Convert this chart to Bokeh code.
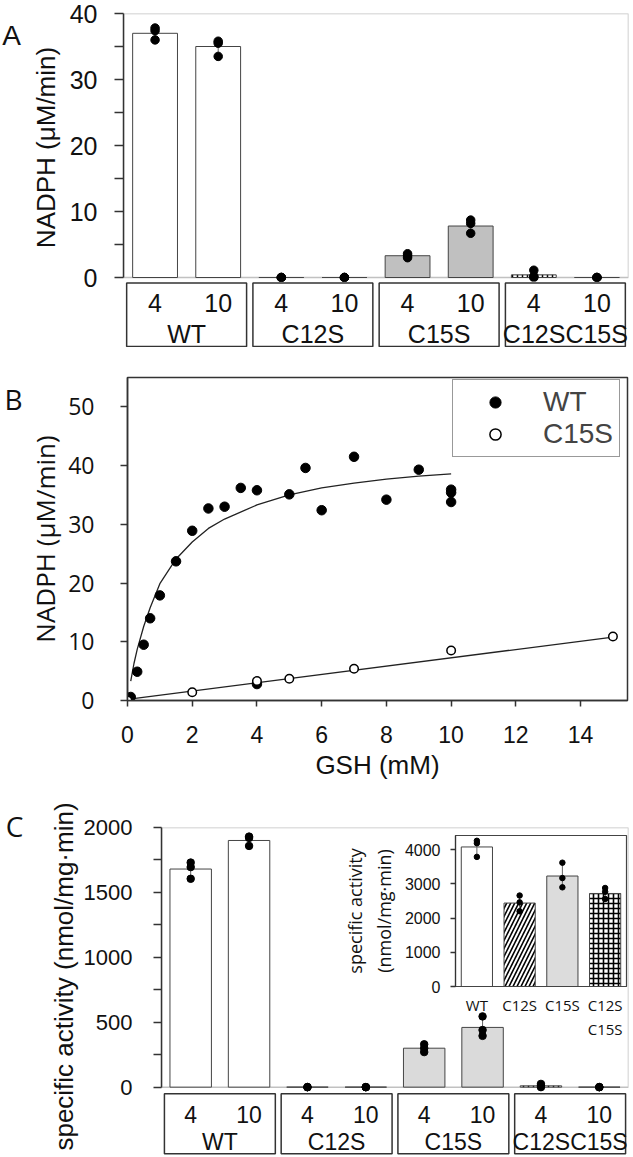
import numpy as np
from bokeh.plotting import figure
from bokeh.layouts import column, row
from bokeh.models import (FactorRange, Range1d, FixedTicker, BoxAnnotation, Label,
                          Legend, LegendItem, GridBox)
from bokeh.core.properties import value
from bokeh.embed import file_html
from bokeh.resources import INLINE

# ---------------- data ----------------
groups = ["WT", "C12S", "C15S", "C12SC15S"]
concs = ["4", "10"]

# Panel A: NADPH consumption (uM/min); bar = mean, rep1..3 = replicate dots
a_bar = [37.0, 35.0, 0.0, 0.0, 3.3, 7.8, 0.4, 0.0]
a_rep1 = [37.8, 35.8, 0.0, 0.0, 3.6, 8.7, 1.1, 0.0]
a_rep2 = [37.4, 35.5, 0.0, 0.0, 3.3, 8.2, 0.2, 0.0]
a_rep3 = [36.0, 33.5, 0.0, 0.0, 3.0, 6.7, 0.0, 0.0]
a_yticks = [0, 10, 20, 30, 40]
a_yminor = [5, 15, 25, 35]

# Panel B: NADPH vs GSH (mM)
b_wt_x = [0.1, 0.3, 0.5, 0.7, 1.0, 1.5, 2.0, 2.5, 3.0, 3.5, 4.0, 4.0, 5.0, 5.5, 6.0,
          7.0, 8.0, 9.0, 10.0, 10.0, 10.0]
b_wt_y = [0.6, 4.9, 9.5, 14.0, 17.9, 23.7, 28.9, 32.7, 33.0, 36.2, 35.8, 2.8, 35.1,
          39.6, 32.4, 41.5, 34.2, 39.3, 35.9, 35.4, 33.8]
b_c15_x = [0.0, 2.0, 4.0, 5.0, 7.0, 10.0, 15.0]
b_c15_y = [0.0, 1.4, 3.3, 3.7, 5.4, 8.5, 10.9]
b_wtfit_x = [0.1, 0.2, 0.3, 0.5, 0.7, 1.0, 1.5, 2.0, 2.5, 3.0, 4.0, 5.0, 6.0, 7.0,
             8.0, 9.0, 10.0]
b_wtfit_y = [3.3, 6.3, 8.7, 12.6, 15.8, 19.9, 24.1, 27.0, 29.3, 30.9, 33.3, 35.0,
             36.2, 37.0, 37.7, 38.2, 38.6]
b_c15fit_x = [0.0, 15.0]
b_c15fit_y = [0.2, 10.8]
b_xticks = [0, 2, 4, 6, 8, 10, 12, 14]
b_yticks = [0, 10, 20, 30, 40, 50]

# Panel C: specific activity (nmol/mg.min)
c_bar = [1680, 1900, 0, 0, 300, 460, 10, 0]
c_rep1 = [1730, 1930, 0, 0, 330, 545, 25, 0]
c_rep2 = [1695, 1920, 0, 0, 300, 440, 10, 0]
c_rep3 = [1605, 1858, 0, 0, 270, 395, 0, 0]
c_yticks = [0, 500, 1000, 1500, 2000]
c_yminor = [250, 750, 1250, 1750]

# Panel C inset
inset_cats = ["WT", "C12S", "C15S", "C12S\nC15S"]
inset_bar = [4080, 2440, 3230, 2720]
inset_rep1 = [4260, 2660, 3620, 2880]
inset_rep2 = [4190, 2460, 3170, 2770]
inset_rep3 = [3790, 2200, 2900, 2560]
inset_yticks = [0, 1000, 2000, 3000, 4000]

# ---------------- styles ----------------
INK = "#333333"
SANS = "Liberation Sans"
HUM = "Open Sans"
factors = [(g, c) for g in groups for c in concs]
fill_A = {"WT": "white", "C12S": "white", "C15S": "#c0c0c0", "C12SC15S": "white"}
fill_C = {"WT": "white", "C12S": "white", "C15S": "#dadada", "C12SC15S": "white"}
hatch_AC = {"C12SC15S": "cross"}


def new_fig(**kw):
    p = figure(output_backend="svg", toolbar_location=None, **kw)
    p.grid.visible = False
    return p


def strip(width, height):
    p = new_fig(width=width, height=height, x_range=Range1d(0, width),
                y_range=Range1d(height, 0), x_axis_location=None,
                y_axis_location=None, min_border=0)
    p.outline_line_color = None
    return p


def style_axis(ax, ticks, minor, font, size, standoff, tick_out):
    ax.ticker = FixedTicker(ticks=ticks, minor_ticks=minor)
    ax.major_label_text_font = font
    ax.major_label_text_font_size = size
    ax.major_label_text_color = "#111111"
    ax.major_label_standoff = standoff
    ax.major_tick_out = tick_out
    ax.major_tick_in = 0
    ax.minor_tick_out = tick_out
    ax.minor_tick_in = 0
    ax.axis_line_color = INK
    ax.axis_line_width = 1.5
    ax.major_tick_line_color = INK
    ax.major_tick_line_width = 1.5
    ax.minor_tick_line_color = INK
    ax.minor_tick_line_width = 1.5
    ax.axis_label_text_font_style = "normal"
    ax.axis_label_text_color = "#111111"


def draw_bars(p, bars, reps, fill, dot):
    fills = [fill[g] for g, _ in factors]
    hatches = [hatch_AC.get(g, " ") for g, _ in factors]
    p.vbar(x=factors, top=bars, width=0.71, fill_color=fills, line_color="#444444",
           line_width=1, hatch_pattern=hatches, hatch_color="black", hatch_scale=5,
           hatch_weight=1.5)
    r = np.array(reps, dtype=float)
    m, s = r.mean(axis=0), r.std(axis=0, ddof=1)
    p.segment(x0=factors, y0=list(m - s), x1=factors, y1=list(m + s),
              line_color="#666666", line_width=1)
    xs = factors * len(reps)
    ys = [v for rep in reps for v in rep]
    p.scatter(x=xs, y=ys, size=dot, marker="circle", fill_color="black",
              line_color="black")


def draw_group_boxes(p, yb, hb, yc, yg, size, rn="default"):
    p.rect(x=groups, y=yb, width=1.9, height=hb, fill_color="white",
           line_color=INK, line_width=1.5, y_range_name=rn)
    p.text(x=factors, y=yc, text=[c for _, c in factors], text_align="center",
           text_baseline="middle", text_font=value(SANS), text_font_size=value(size),
           text_color="#111111", y_range_name=rn)
    p.text(x=groups, y=yg, text=groups, text_align="center", text_baseline="middle",
           text_font=value(SANS), text_font_size=value(size), text_color="#111111",
           y_range_name=rn)


# ---------------- panel letters (top strip) ----------------
pL = strip(24, 800)
pL.add_layout(Label(x=11, y=35, text="A", text_font=SANS, text_font_size="28px",
                    text_align="center", text_baseline="middle", text_color="#111111"))
pL.add_layout(Label(x=13, y=398, text="B", text_font=HUM, text_font_size="28px",
                    text_align="center", text_baseline="middle", text_color="#111111"))

# ---------------- Panel A ----------------
xa = FactorRange(factors=factors, factor_padding=0, group_padding=0, range_padding=0)
pA = new_fig(width=606, height=296, x_range=xa, y_range=Range1d(-0.606, 40),
             x_axis_location=None, min_border_left=99, min_border_right=2,
             min_border_top=13, min_border_bottom=15)
pA.outline_line_color = None
pA.add_layout(BoxAnnotation(bottom=0, top=40, fill_color=None, line_color=INK,
                            line_width=1.5, level="underlay"))
draw_bars(pA, a_bar, [a_rep1, a_rep2, a_rep3], fill_A, 8.5)
ya = pA.yaxis[0]
style_axis(ya, a_yticks, a_yminor, SANS, "25px", 17, 9)
ya.bounds = (0, 40)
ya.axis_label = "NADPH (μM/min)"
ya.axis_label_text_font = SANS
ya.axis_label_text_font_size = "26px"
ya.axis_label_standoff = 6

# group label boxes of panel A (overlaid on the bottom border of pA)
pAl = new_fig(width=520, height=66, x_range=xa, y_range=Range1d(0, 1),
              x_axis_location=None, y_axis_location=None, min_border_left=13,
              min_border_right=2, min_border_top=0, min_border_bottom=0)
pAl.outline_line_color = None
pAl.border_fill_color = None
pAl.background_fill_color = None
draw_group_boxes(pAl, 0.496, 0.962, 0.667, 0.212, "25px")

gridA = GridBox(children=[(pA, 0, 0, 2, 2), (pAl, 1, 1, 2, 1)],
                rows=["281px", "15px", "51px"], cols=["86px", "520px"])

# ---------------- Panel B ----------------
pB = new_fig(width=605, height=453, x_range=Range1d(0, 15.45), y_range=Range1d(0, 55),
             min_border_left=98, min_border_right=2, min_border_top=30,
             min_border_bottom=100)
pB.outline_line_color = INK
pB.outline_line_width = 1.5
pB.line(b_wtfit_x, b_wtfit_y, line_color="#222222", line_width=1.3)
pB.line(b_c15fit_x, b_c15fit_y, line_color="#222222", line_width=1.3)
r_wt = pB.scatter(b_wt_x, b_wt_y, size=9.5, marker="circle", fill_color="black",
                  line_color="black")
r_c15 = pB.scatter(b_c15_x, b_c15_y, size=8.5, marker="circle", fill_color="white",
                   line_color="black", line_width=1.5)
xb, yb = pB.xaxis[0], pB.yaxis[0]
style_axis(xb, b_xticks, [], SANS, "23px", 19, 6)
xb.axis_label = "GSH (mM)"
xb.axis_label_text_font = SANS
xb.axis_label_text_font_size = "26px"
xb.axis_label_standoff = 4
style_axis(yb, b_yticks, [], HUM, "23px", 26, 7)
yb.axis_label = "NADPH (μM/min)"
yb.axis_label_text_font = HUM
yb.axis_label_text_font_size = "26px"
yb.axis_label_standoff = 2
legB = Legend(items=[LegendItem(label="WT", renderers=[r_wt]),
                     LegendItem(label="C15S", renderers=[r_c15])],
              location=(325, 243), border_line_color=INK, border_line_width=1.5,
              padding=6, spacing=0, glyph_width=72, glyph_height=28, label_height=28,
              label_standoff=12, label_text_font=SANS, label_text_font_size="28px",
              margin=0, background_fill_color="white", background_fill_alpha=1)
pB.add_layout(legB)

# ---------------- Panel C ----------------
# left strip: panel letter and the long y title (longer than the plot frame)
pLC = strip(80, 357)
pLC.add_layout(Label(x=14, y=25, text="C", text_font=HUM, text_font_size="28px",
                     text_align="center", text_baseline="middle", text_color="#111111"))
pLC.add_layout(Label(x=63, y=176, text="specific activity (nmol/mg·min)",
                     angle=np.pi / 2, text_font=SANS, text_font_size="26px",
                     text_align="center", text_baseline="middle",
                     text_color="#111111"))

xc = FactorRange(factors=factors, factor_padding=0, group_padding=0, range_padding=0)
pC = new_fig(width=550, height=357, x_range=xc, y_range=Range1d(-542, 2000),
             x_axis_location=None, min_border_left=81, min_border_right=2,
             min_border_top=27, min_border_bottom=0)
pC.extra_y_ranges = {"labels": Range1d(0, 5.156)}
pC.outline_line_color = None
pC.add_layout(BoxAnnotation(bottom=0, top=2000, fill_color=None, line_color=INK,
                            line_width=1.5, level="underlay"))
draw_bars(pC, c_bar, [c_rep1, c_rep2, c_rep3], fill_C, 7.5)
yc = pC.yaxis[0]
style_axis(yc, c_yticks, c_yminor, SANS, "22px", 21, 8)
yc.bounds = (0, 2000)
draw_group_boxes(pC, 0.527, 0.9375, 0.672, 0.239, "23px", rn="labels")

# inset
xi = FactorRange(factors=inset_cats, range_padding=0, factor_padding=0)
pI = new_fig(width=288, height=212, x_range=xi, y_range=Range1d(0, 4415),
             min_border_left=109, min_border_right=2, min_border_top=5,
             min_border_bottom=56)
pI.border_fill_color = None
pI.background_fill_color = "white"
pI.outline_line_color = "#444444"
pI.outline_line_width = 1.2
inset_fill = ["white", "white", "#dcdcdc", "white"]
inset_hatch = [" ", "right_diagonal_line", " ", "cross"]
inset_hscale = [6, 8, 6, 5]
inset_hweight = [1, 1.6, 1, 1.6]
pI.vbar(x=inset_cats, top=inset_bar, width=0.73, fill_color=inset_fill,
        line_color="#444444", line_width=1, hatch_pattern=inset_hatch,
        hatch_color="black", hatch_scale=inset_hscale, hatch_weight=inset_hweight)
ri = np.array([inset_rep1, inset_rep2, inset_rep3], dtype=float)
mi, si = ri.mean(axis=0), ri.std(axis=0, ddof=1)
pI.segment(x0=inset_cats, y0=list(mi - si), x1=inset_cats, y1=list(mi + si),
           line_color="#666666", line_width=1)
pI.scatter(x=inset_cats * 3, y=inset_rep1 + inset_rep2 + inset_rep3, size=5.5,
           marker="circle", fill_color="black", line_color="black")
yi, xi_ax = pI.yaxis[0], pI.xaxis[0]
style_axis(yi, inset_yticks, [], SANS, "16px", 10, 5)
yi.axis_line_width = 1.2
yi.axis_label = "specific activity\n(nmol/mg·min)"
yi.axis_label_text_font = HUM
yi.axis_label_text_font_size = "18px"
yi.axis_label_standoff = 6
xi_ax.major_label_text_font = HUM
xi_ax.major_label_text_font_size = "15px"
xi_ax.major_label_text_color = "#111111"
xi_ax.major_tick_out = 0
xi_ax.major_tick_in = 0
xi_ax.major_label_standoff = 8
xi_ax.axis_line_color = "#444444"
xi_ax.axis_line_width = 1.2

gridC = GridBox(children=[(pC, 0, 0, 3, 3), (pI, 1, 1, 1, 1)],
                rows=["30px", "212px", "115px"], cols=["260px", "288px", "2px"])

top = row(pL, column(gridA, pB))
bottom = row(pLC, gridC)
layout = column(top, bottom)
open("out.html", "w").write(file_html(layout, INLINE))
